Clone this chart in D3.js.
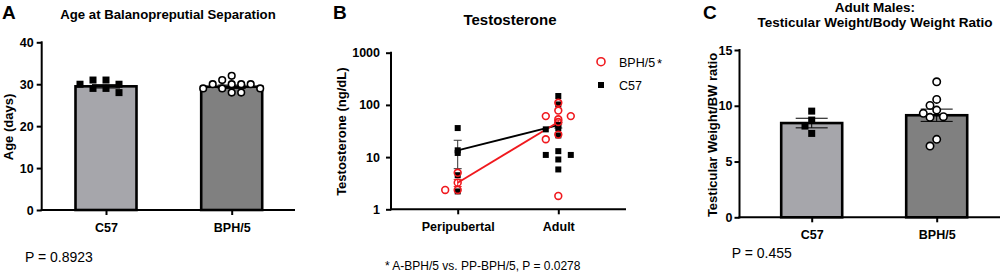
<!DOCTYPE html>
<html>
<head>
<meta charset="utf-8">
<script src="https://cdn.jsdelivr.net/npm/d3@7"></script>
<style>
  body { margin: 0; background: #fff; }
  svg { display: block; font-family: Arial, "Liberation Sans", sans-serif; }
  .tick text { font-weight: bold; font-size: 12.5px; fill: #000; }
</style>
</head>
<body>
<div id="chart"></div>
<script>
// Panel A: age at balanopreputial separation (days)
const ageGroups = ['C57', 'BPH/5'];
const ageC57 = [30, 28, 30, 31, 29, 31, 29];
const ageBPH = [30, 30, 28, 29, 29, 29, 31, 32, 30, 28, 30];
const ageMean = [29.5, 29.4];
const ageSem = [0.4, 0.4];
const ageTicks = [0, 10, 20, 30, 40];

// Panel B: testosterone (ng/dL), log scale
const testoGroups = ['Peripubertal', 'Adult'];
const testoC57 = [[36, 12, 4.5, 2.2], [148, 102, 36, 26, 13, 11, 9, 5.8, 34, 11]];
const testoBPH = [[5.0, 2.35, 2.35], [78, 53, 61, 27, 1.8, 110, 61, 22]];
const testoC57Mean = [13.5, 41];
const testoC57Sem = [7.5, 5];
const testoBPHMean = [3.24, 47];
const testoBPHSem = [0.5, 4];
const testoTicks = [1, 10, 100, 1000];

// Panel C: testicular weight / body weight ratio
const ratioGroups = ['C57', 'BPH/5'];
const ratioC57 = [9.52, 8.72, 8.18, 7.52];
const ratioBPH = [12.15, 10.57, 10.03, 9.61, 9.02, 9.32, 8.96, 6.39, 6.99];
const ratioMean = [8.45, 9.15];
const ratioSem = [0.43, 0.55];
const ratioTicks = [0, 5, 10, 15];

const svg = d3.select('#chart').append('svg')
  .attr('width', 1003).attr('height', 276);

// place points around a centre, dodging sideways when they would overlap
function dodge(values, y, cx, step, minDist) {
  const placed = [];
  values.slice().sort((a, b) => b - a).forEach(v => {
    const py = y(v);
    for (let k = 0; k < 20; k++) {
      const off = k === 0 ? 0 : (k % 2 ? -1 : 1) * Math.ceil(k / 2) * step;
      const px = cx + off;
      const hit = placed.some(p => Math.hypot(p.x - px, p.y - py) < minDist);
      if (!hit) { placed.push({ x: px, y: py, v }); break; }
    }
  });
  return placed;
}

function drawSquares(g, pts, size) {
  g.selectAll(null).data(pts).enter().append('rect')
    .attr('x', d => d.x - size / 2).attr('y', d => d.y - size / 2)
    .attr('width', size).attr('height', size).attr('fill', '#000');
}

function drawCircles(g, pts, r, color, fill) {
  g.selectAll(null).data(pts).enter().append('circle')
    .attr('cx', d => d.x).attr('cy', d => d.y).attr('r', r)
    .attr('fill', fill).attr('stroke', color).attr('stroke-width', 1.6);
}

function axes(g, x, y, yTicks, fmt, xExtent, yPad) {
  const ya = g.append('g').attr('transform', `translate(${xExtent[0]},0)`)
    .call(d3.axisLeft(y).tickValues(yTicks).tickFormat(fmt).tickSize(5).tickPadding(yPad));
  ya.select('.domain').remove();
  ya.selectAll('.tick line').attr('stroke-width', 2);
  ya.append('line').attr('y1', y.range()[0] + 1).attr('y2', y.range()[1] - 1)
    .attr('stroke', '#000').attr('stroke-width', 2);
  const xa = g.append('g').attr('transform', `translate(0,${y.range()[0]})`)
    .call(d3.axisBottom(x).tickSize(5).tickPadding(8));
  xa.select('.domain').remove();
  xa.selectAll('.tick line').attr('stroke-width', 2);
  xa.append('line').attr('x1', xExtent[0] - 1).attr('x2', xExtent[1])
    .attr('stroke', '#000').attr('stroke-width', 2);
}

function text(x, y, s, opts = {}) {
  return svg.append('text').attr('x', x).attr('y', y).text(s)
    .attr('font-size', opts.size || 13)
    .attr('font-weight', opts.bold ? 'bold' : 'normal')
    .attr('text-anchor', opts.anchor || 'start')
    .attr('transform', opts.rotate ? `rotate(-90,${x},${y})` : null);
}

function errBar(g, cx, yTop, yBot, half, color, w) {
  g.append('line').attr('x1', cx).attr('x2', cx).attr('y1', yTop).attr('y2', yBot)
    .attr('stroke', color).attr('stroke-width', w);
  [yTop, yBot].forEach(yy => g.append('line').attr('x1', cx - half).attr('x2', cx + half)
    .attr('y1', yy).attr('y2', yy).attr('stroke', color).attr('stroke-width', w));
}

function barPanel(opts) {
  const g = svg.append('g');
  const x = d3.scalePoint().domain(opts.groups).range(opts.centers);
  const y = d3.scaleLinear().domain(opts.domain).range(opts.yRange);
  axes(g, x, y, opts.ticks, d3.format('d'), opts.xExtent, opts.yPad);
  const fills = ['#a6a6ab', '#808080'];
  g.selectAll('.bar').data(opts.groups).enter().append('rect')
    .attr('x', d => x(d) - opts.barW / 2)
    .attr('y', (d, i) => y(opts.mean[i]))
    .attr('width', opts.barW)
    .attr('height', (d, i) => y(0) - y(opts.mean[i]))
    .attr('fill', (d, i) => fills[i]).attr('stroke', '#000').attr('stroke-width', 2.6);
  opts.groups.forEach((gr, i) => errBar(g, x(gr), y(opts.mean[i] + opts.sem[i]),
    y(opts.mean[i] - opts.sem[i]), opts.capW, '#000', 1));
  drawSquares(g, dodge(opts.a, y, x(opts.groups[0]), opts.stepA, opts.minDist), opts.sq);
  drawCircles(g, dodge(opts.b, y, x(opts.groups[1]), opts.stepB, opts.minDist), opts.r, '#000', '#fff');
}

// ---------- A ----------
barPanel({
  groups: ageGroups, centers: [106, 231.7], domain: [0, 40], yRange: [210, 42.3],
  ticks: ageTicks, xExtent: [41.7, 295], yPad: 3, barW: 61, mean: ageMean, sem: ageSem,
  capW: 14, a: ageC57, b: ageBPH, stepA: 13, stepB: 9.5, minDist: 7.5, sq: 7, r: 3.3
});
text(2, 19, 'A', { size: 19, bold: true });
text(168, 19, 'Age at Balanopreputial Separation', { bold: true, anchor: 'middle', size: 13.2 });
text(13, 127, 'Age (days)', { bold: true, anchor: 'middle', rotate: true, size: 13 });
text(25, 261.5, 'P = 0.8923', { size: 14 });

// ---------- B ----------
{
  const g = svg.append('g');
  const x = d3.scalePoint().domain(testoGroups).range([457.7, 558.3]);
  const y = d3.scaleLog().domain([1, 1000]).range([209.3, 52.7]);
  axes(g, x, y, testoTicks, d3.format('d'), [391, 626], 6);
  const red = '#f0191e';
  const c57Mean = testoGroups.map((d, i) => ({ x: x(d), y: y(testoC57Mean[i]) }));
  const bphMean = testoGroups.map((d, i) => ({ x: x(d), y: y(testoBPHMean[i]) }));
  const line = d3.line().x(d => d.x).y(d => d.y);
  testoGroups.forEach((d, i) => {
    errBar(g, x(d), y(testoC57Mean[i] + testoC57Sem[i]), y(testoC57Mean[i] - testoC57Sem[i]), 4, '#333', 1);
    errBar(g, x(d), y(testoBPHMean[i] + testoBPHSem[i]), y(testoBPHMean[i] - testoBPHSem[i]), 4, red, 1);
  });
  g.append('path').attr('d', line(c57Mean)).attr('stroke', '#000').attr('stroke-width', 1.8).attr('fill', 'none');
  g.append('path').attr('d', line(bphMean)).attr('stroke', red).attr('stroke-width', 1.8).attr('fill', 'none');
  testoGroups.forEach((d, i) => {
    drawSquares(g, dodge(testoC57[i], y, x(d), 12.5, 7), 6);
    drawCircles(g, dodge(testoBPH[i], y, x(d), 12.5, 7), 3.4, red, 'none');
  });
  drawSquares(g, c57Mean, 6);
  drawCircles(g, bphMean, 3.4, red, 'none');
  // legend
  drawCircles(g, [{ x: 601, y: 61.7 }], 4, red, 'none');
  drawSquares(g, [{ x: 601, y: 85 }], 6);
  text(619, 66.5, 'BPH/5', { size: 12.5 });
  text(657, 68, '*', { size: 13 });
  text(619, 90, 'C57', { size: 12.5 });
}
text(333, 19, 'B', { size: 19, bold: true });
text(510, 24.5, 'Testosterone', { bold: true, anchor: 'middle', size: 15 });
text(346.5, 131.7, 'Testosterone (ng/dL)', { bold: true, anchor: 'middle', rotate: true, size: 13 });
text(482.7, 270, '* A-BPH/5 vs. PP-BPH/5, P = 0.0278', { anchor: 'middle', size: 12 });

// ---------- C ----------
barPanel({
  groups: ratioGroups, centers: [811.7, 936.7], domain: [0, 15], yRange: [217.3, 50],
  ticks: ratioTicks, xExtent: [739.5, 1000], yPad: 2, barW: 61, mean: ratioMean, sem: ratioSem,
  capW: 16, a: ratioC57, b: ratioBPH, stepA: 6.7, stepB: 6.7, minDist: 7.5, sq: 7, r: 3.7
});
text(703, 19, 'C', { size: 19, bold: true });
text(875, 11.5, 'Adult Males:', { bold: true, anchor: 'middle', size: 13.5 });
text(875, 27, 'Testicular Weight/Body Weight Ratio', { bold: true, anchor: 'middle', size: 13.5 });
text(717, 135, 'Testicular Weight/BW ratio', { bold: true, anchor: 'middle', rotate: true, size: 13 });
text(731.7, 258, 'P = 0.455', { size: 14 });
</script>
</body>
</html>
